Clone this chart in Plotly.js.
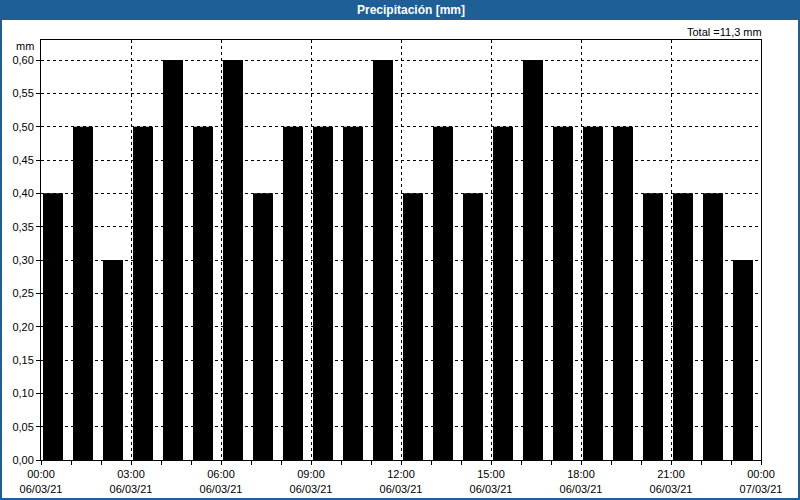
<!DOCTYPE html>
<html>
<head>
<meta charset="utf-8">
<script src="https://cdn.plot.ly/plotly-3.0.1.min.js"></script>
<style>
html,body{margin:0;padding:0;background:#fff;}
#chart{width:800px;height:500px;}
</style>
</head>
<body>
<div id="chart"></div>
<script>
// ---- data ----
var hours = [0,1,2,3,4,5,6,7,8,9,10,11,12,13,14,15,16,17,18,19,20,21,22,23];
var precip = [0.4,0.5,0.3,0.5,0.6,0.5,0.6,0.4,0.5,0.5,0.5,0.6,0.4,0.5,0.4,0.5,0.6,0.5,0.5,0.5,0.4,0.4,0.4,0.3];
var tickHours = [0,3,6,9,12,15,18,21,24];
var tickTimes = ["00:00","03:00","06:00","09:00","12:00","15:00","18:00","21:00","00:00"];
var tickDates = ["06/03/21","06/03/21","06/03/21","06/03/21","06/03/21","06/03/21","06/03/21","06/03/21","07/03/21"];
var chartTitle = "Precipitación [mm]";
var unitLabel = "mm";
var totalLabel = "Total =11,3 mm";

// ---- layout geometry ----
var W = 800, H = 500, L = 41, R = 39, T = 40, B = 40;
var pw = W - L - R, ph = H - T - B;
function px(x){ return (x - L) / pw; }
function py(y){ return (H - B - y) / ph; }

var blue = "rgb(30,95,150)";
var font = "Liberation Sans, Arial, sans-serif";

var ticktext = tickTimes.map(function(t,i){ return t + "<br>" + tickDates[i]; });

var trace = {
  type: "bar",
  x: hours,
  y: precip,
  offset: 2/30,
  width: 20/30,
  marker: {color: "#000", line: {width: 0}},
  hoverinfo: "x+y"
};

var layout = {
  width: W, height: H,
  margin: {l: L, r: R, t: T, b: B, pad: 0},
  paper_bgcolor: "#fff",
  plot_bgcolor: "#fff",
  separators: ",.",
  showlegend: false,
  font: {family: font, size: 11, color: "#000"},
  xaxis: {
    range: [0, 24],
    tickmode: "array",
    tickvals: tickHours,
    ticktext: ticktext,
    ticks: "outside", ticklen: 4, tickcolor: "#000", tickwidth: 1,
    minor: {dtick: 1, tick0: 0, ticks: "outside", ticklen: 4, tickcolor: "#000", showgrid: false},
    showgrid: true, gridcolor: "#000", griddash: "dot", gridwidth: 1,
    showline: true, linecolor: "#000", linewidth: 1, mirror: true,
    zeroline: false,
    tickangle: 0,
    tickfont: {family: font, size: 11, color: "#000"},
    fixedrange: true
  },
  yaxis: {
    range: [0, 0.63],
    tick0: 0, dtick: 0.05,
    tickformat: ".2f",
    ticks: "outside", ticklen: 4, tickcolor: "#000", tickwidth: 1,
    showgrid: true, gridcolor: "#000", griddash: "dot", gridwidth: 1,
    showline: true, linecolor: "#000", linewidth: 1, mirror: true,
    zeroline: false,
    tickfont: {family: font, size: 11, color: "#000"},
    fixedrange: true
  },
  shapes: [
    {type: "rect", xref: "paper", yref: "paper", x0: px(0), x1: px(800), y0: py(0), y1: py(20),
     fillcolor: blue, line: {width: 0}, layer: "below"},
    {type: "rect", xref: "paper", yref: "paper", x0: px(1), x1: px(799), y0: py(1), y1: py(499),
     fillcolor: "rgba(0,0,0,0)", line: {color: blue, width: 2}, layer: "above"}
  ],
  annotations: [
    {xref: "paper", yref: "paper", x: px(411), y: py(10), text: "<b>" + chartTitle + "</b>",
     showarrow: false, xanchor: "center", yanchor: "middle",
     font: {family: font, size: 12, color: "#fff"}},
    {xref: "paper", yref: "paper", x: px(764), y: py(32), text: totalLabel,
     showarrow: false, xanchor: "right", yanchor: "middle",
     font: {family: font, size: 11, color: "#000"}},
    {xref: "paper", yref: "paper", x: px(36), y: py(46), text: unitLabel,
     showarrow: false, xanchor: "right", yanchor: "middle",
     font: {family: font, size: 11, color: "#000"}}
  ]
};

Plotly.newPlot("chart", [trace], layout, {displayModeBar: false, staticPlot: true});
</script>
</body>
</html>
